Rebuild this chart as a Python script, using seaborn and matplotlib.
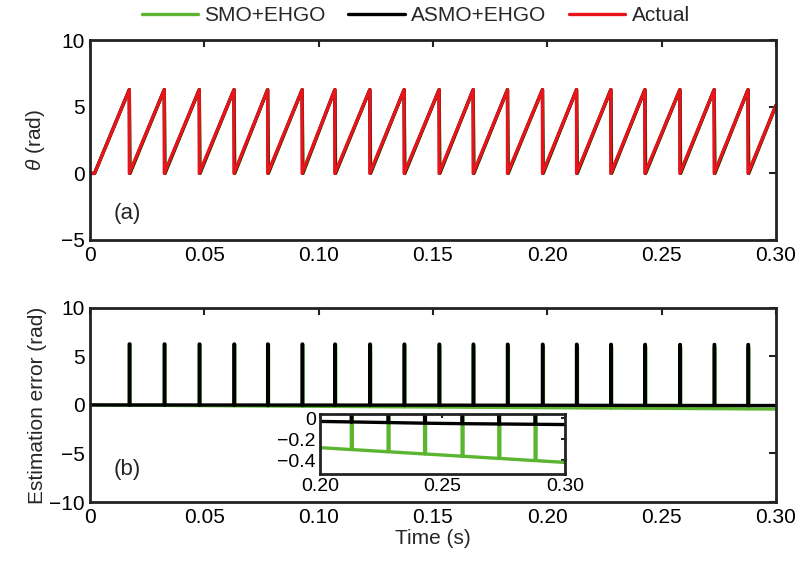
import numpy as np
import pandas as pd
import matplotlib
matplotlib.use("Agg")
import matplotlib.pyplot as plt
import seaborn as sns

# Rotor angle wrap instants (s) where theta resets from 2*pi to 0
wrap_times = [0.0172, 0.0325, 0.0478, 0.0630, 0.0777, 0.0928, 0.1071, 0.1224,
              0.1374, 0.1527, 0.1676, 0.1826, 0.1979, 0.2128, 0.2278, 0.2427,
              0.2580, 0.2730, 0.2878]
rise_start = 0.002        # angle starts increasing here
t_end = 0.30
theta_end = 5.1           # angle value at the end of the record
theta_peak = 2 * np.pi

# Steady estimation-error drift of each observer (knots, rad)
smo_err_t = [0.0, 0.10, 0.20, 0.30]
smo_err_v = [0.0, -0.14, -0.28, -0.42]
asmo_err_t = [0.0, 0.10, 0.20, 0.25, 0.30]
asmo_err_v = [0.0, -0.01, -0.03, -0.05, -0.06]
# Lag of each observer at a wrap (s)
smo_lag = 0.0004
asmo_lag = 0.0002

GREEN = "#5cb531"
BLACK = "#000000"
RED = "#e8141c"

sns.set_theme(style="white")
plt.rcParams["font.family"] = ["Liberation Sans", "DejaVu Sans"]
plt.rcParams["mathtext.fontset"] = "custom"
plt.rcParams["mathtext.it"] = "Liberation Sans:italic"
plt.rcParams["mathtext.rm"] = "Liberation Sans"

FS = 15


def actual_angle():
    t, v = [0.0, rise_start], [0.0, 0.0]
    for tk in wrap_times:
        t += [tk, tk]
        v += [theta_peak, 0.0]
    t.append(t_end)
    v.append(theta_end)
    return pd.DataFrame({"t": t, "v": v})


def estimated_angle(lag):
    df = actual_angle()
    t = df["t"].to_numpy().copy()
    # wraps happen slightly later for the estimate
    for i in range(2, len(t) - 1, 2):
        t[i + 1] = t[i] + lag
    return pd.DataFrame({"t": t, "v": df["v"].to_numpy()})


def error_curve(lag, et, ev):
    t, v = [0.0], [0.0]
    for tk in wrap_times:
        b = float(np.interp(tk, et, ev))
        t += [tk, tk, tk + lag, tk + lag]
        v += [b, b + theta_peak, b + theta_peak, b]
    t.append(t_end)
    v.append(float(np.interp(t_end, et, ev)))
    return pd.DataFrame({"t": t, "v": v})


W, H = 807, 571
fig = plt.figure(figsize=(W / 100, H / 100), dpi=100)
ax1 = fig.add_axes([0.1115, 0.5797, 0.850, 0.350])
ax2 = fig.add_axes([0.1115, 0.1208, 0.850, 0.340])
axin = fig.add_axes([0.3965, 0.1699, 0.3036, 0.105])

lw = 2.4
common = dict(x="t", y="v", estimator=None, sort=False)

# (a) angle
sns.lineplot(data=estimated_angle(smo_lag), ax=ax1,
             color=GREEN, lw=lw, label="SMO+EHGO", **common)
sns.lineplot(data=estimated_angle(asmo_lag), ax=ax1,
             color=BLACK, lw=lw, label="ASMO+EHGO", **common)
sns.lineplot(data=actual_angle(), ax=ax1, color=RED, lw=lw, label="Actual", **common)

# (b) estimation error
e_smo = error_curve(smo_lag, smo_err_t, smo_err_v)
e_asmo = error_curve(asmo_lag, asmo_err_t, asmo_err_v)
sns.lineplot(data=e_smo, ax=ax2, color=GREEN, lw=lw, **common)
sns.lineplot(data=e_asmo, ax=ax2, color=BLACK, lw=lw, **common)

sns.lineplot(data=e_smo, ax=axin, color=GREEN, lw=lw, **common)
sns.lineplot(data=e_asmo, ax=axin, color=BLACK, lw=lw, **common)

handles, labels = ax1.get_legend_handles_labels()
ax1.get_legend().remove()
fig.legend(handles, labels, loc="center", bbox_to_anchor=(0.515, 0.973), ncol=3,
           frameon=False, fontsize=FS, handlelength=2.7, handletextpad=0.3,
           columnspacing=1.1)

xt = [0, 0.05, 0.10, 0.15, 0.20, 0.25, 0.30]
xtl = ["0", "0.05", "0.10", "0.15", "0.20", "0.25", "0.30"]

for ax in (ax1, ax2, axin):
    for s in ax.spines.values():
        s.set_visible(True)
        s.set_color("#222222")
        s.set_linewidth(2.0)
    ax.tick_params(direction="in", length=5, width=1.5, top=True, right=True,
                   labelsize=FS, colors="#222222", labelcolor="black", pad=4)
    ax.set_facecolor("white")

for ax in (ax1, ax2):
    ax.set_xlim(0, 0.30)
    ax.set_xticks(xt)
    ax.set_xticklabels(xtl)

ax1.set_ylim(-5, 10)
ax1.set_yticks([-5, 0, 5, 10])
ax1.set_yticklabels(["\u22125", "0", "5", "10"])
ax1.set_xlabel("")
ax1.set_ylabel(r"$\theta$ (rad)", fontsize=FS, labelpad=10)
ax1.text(0.0105, -3.0, "(a)", fontsize=FS + 1, ha="left", va="center")

ax2.set_ylim(-10, 10)
ax2.set_yticks([-10, -5, 0, 5, 10])
ax2.set_yticklabels(["\u221210", "\u22125", "0", "5", "10"])
ax2.set_xlabel("Time (s)", fontsize=FS, labelpad=2)
ax2.set_ylabel("Estimation error (rad)", fontsize=FS, labelpad=1)
ax2.text(0.0105, -6.6, "(b)", fontsize=FS + 1, ha="left", va="center")

axin.set_xlim(0.20, 0.30)
axin.set_ylim(-0.53, 0.04)
axin.set_xticks([0.20, 0.25, 0.30])
axin.set_xticklabels(["0.20", "0.25", "0.30"])
axin.set_yticks([-0.4, -0.2, 0])
axin.set_yticklabels(["\u22120.4", "\u22120.2", "0"])
axin.tick_params(labelsize=FS - 1, length=3, pad=3)
axin.set_xlabel("")
axin.set_ylabel("")

fig.savefig("out.png", dpi=100)
